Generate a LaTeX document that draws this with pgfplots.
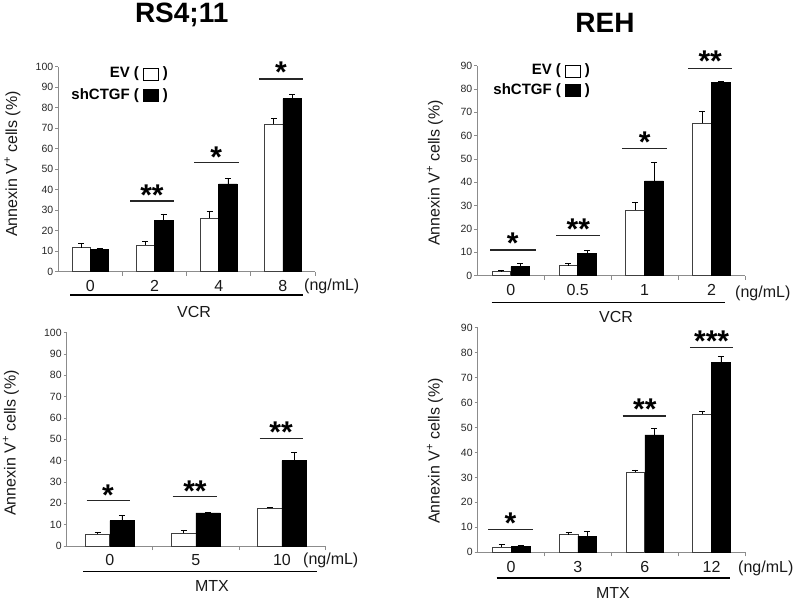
\documentclass[border=0pt]{standalone}
\usepackage{pgfplots}
\pgfplotsset{compat=1.18}
\usepackage{pgfplotstable}
\usepackage{fontspec}
\setmainfont{Liberation Sans}

\pgfplotstableread{
x ev everr sh sherr
0 11.7 2.0 10.9 0.3
1 13.0 1.6 25.2 3.0
2 26.0 3.7 42.8 3.0
3 72.0 2.8 84.4 2.1
}\rsvcr
\pgfplotstableread{
x ev everr sh sherr
0 1.7 0.7 3.9 1.4
1 4.3 1.0 9.6 1.1
2 28.1 3.2 40.6 8.0
3 65.3 5.3 82.7 0.7
}\rehvcr
\pgfplotstableread{
x ev everr sh sherr
0 5.5 0.9 11.9 2.3
1 5.9 1.6 15.5 0.3
2 17.7 0.4 40.0 3.9
}\rsmtx
\pgfplotstableread{
x ev everr sh sherr
0 2.1 1.1 2.5 0.4
1 7.1 0.9 6.5 1.8
2 32.0 1.0 47.0 2.7
3 55.3 1.0 76.2 2.2
}\rehmtx

\definecolor{axgray}{HTML}{8C8C8C}
\newcommand\wbox{{\fboxsep=0pt\fboxrule=1pt\raisebox{-2pt}{\fbox{\rule{0pt}{11pt}\hspace{13.5pt}}}}}
\newcommand\bbox{\rule[-2pt]{15.5pt}{13pt}}

\tikzset{
  sigstar/.style={font=\fontsize{30}{30}\selectfont\bfseries, anchor=base, yshift=-17pt, inner sep=0pt},
  sig/.style={black!85, line width=1.1pt},
  legtext/.style={anchor=east, font=\fontsize{15}{17}\selectfont\bfseries, inner sep=0pt},
}

\pgfplotsset{
  panel/.style={
    scale only axis,
    anchor=south west,
    ybar=0pt,
    axis lines*=left,
    axis line style={axgray, line width=0.8pt},
    x axis line style={shorten <=-3pt},
    ymin=0,
    xmin=-0.5,
    tick align=outside,
    major tick length=3pt,
    tick style={axgray, line width=0.8pt},
    xtick={0,1,2,3},
    major x tick style={draw=none},
    minor x tick style={axgray, line width=0.8pt},
    minor tick length=4pt,
    yticklabel style={font=\fontsize{10.5}{12}\selectfont, text=black!85, xshift=1.5pt},
    xticklabel style={font=\fontsize{16}{18}\selectfont, text=black!90, yshift=-2pt},
    /pgf/number format/assume math mode=true,
    clip=false,
    error bars/y dir=plus,
    error bars/y explicit,
    error bars/error bar style={black, line width=0.6pt},
    error bars/error mark options={rotate=90, mark size=3pt, black, line width=0.6pt},
  },
  evbar/.style={draw=black!75, fill=white, line width=0.7pt},
  shbar/.style={draw=black, fill=black, line width=0.5pt},
}

\begin{document}
\begin{tikzpicture}
\useasboundingbox (0pt,0pt) rectangle (800pt,-601pt);

% ---------------- Panel 1: RS4;11 VCR
\begin{axis}[panel,
  at={(58.3pt,-271.7pt)}, width=256.7pt, height=205pt,
  bar width=18.3pt,
  xmax=3.5, ymax=100, ytick={0,10,...,100},
  xticklabels={0,2,4,8},
  minor xtick={0.5,1.5,2.5,3.5},
]
\addplot[evbar] table[x=x, y=ev, y error=everr] {\rsvcr};
\addplot[shbar] table[x=x, y=sh, y error=sherr] {\rsvcr};
\draw[sig] (axis cs:0.62,34.5) -- (axis cs:1.30,34.5);
\draw[sig] (axis cs:1.62,53.2) -- (axis cs:2.31,53.2);
\draw[sig] (axis cs:2.63,94) -- (axis cs:3.32,94);
\node[sigstar] at (axis cs:0.96,40.6) {**};
\node[sigstar] at (axis cs:1.96,59.3) {*};
\node[sigstar] at (axis cs:2.97,100.8) {*};
\end{axis}

% ---------------- Panel 2: REH VCR
\begin{axis}[panel,
  at={(477.3pt,-275.7pt)}, width=267.7pt, height=210pt,
  bar width=18.8pt,
  xmax=3.5, ymax=90, ytick={0,10,...,90},
  xticklabels={0,0.5,1,2},
  minor xtick={0.5,1.5,2.5,3.5},
]
\addplot[evbar] table[x=x, y=ev, y error=everr] {\rehvcr};
\addplot[shbar] table[x=x, y=sh, y error=sherr] {\rehvcr};
\draw[sig] (axis cs:-0.31,11) -- (axis cs:0.37,11);
\draw[sig] (axis cs:0.68,17.1) -- (axis cs:1.34,17.1);
\draw[sig] (axis cs:1.66,54.6) -- (axis cs:2.34,54.6);
\draw[sig] (axis cs:2.65,88.9) -- (axis cs:3.31,88.9);
\node[sigstar] at (axis cs:0.03,16.7) {*};
\node[sigstar] at (axis cs:1.01,22.7) {**};
\node[sigstar] at (axis cs:2.0,60.3) {*};
\node[sigstar] at (axis cs:2.98,94.6) {**};
\end{axis}

% ---------------- Panel 3: RS4;11 MTX
\begin{axis}[panel,
  at={(66.7pt,-546pt)}, width=258.3pt, height=213.3pt,
  bar width=24.2pt,
  xmax=2.5, ymax=100, ytick={0,10,...,100},
  xtick={0,1,2},
  xticklabels={0,5,10},
  minor xtick={0.5,1.5,2.5},
]
\addplot[evbar] table[x=x, y=ev, y error=everr] {\rsmtx};
\addplot[shbar] table[x=x, y=sh, y error=sherr] {\rsmtx};
\draw[sig] (axis cs:-0.27,21.3) -- (axis cs:0.23,21.3);
\draw[sig] (axis cs:0.73,23.1) -- (axis cs:1.25,23.1);
\draw[sig] (axis cs:1.74,50.5) -- (axis cs:2.245,50.5);
\node[sigstar] at (axis cs:-0.02,27) {*};
\node[sigstar] at (axis cs:0.99,28.9) {**};
\node[sigstar] at (axis cs:1.99,56.3) {**};
\end{axis}

% ---------------- Panel 4: REH MTX
\begin{axis}[panel,
  at={(477.7pt,-552.3pt)}, width=267.3pt, height=224.7pt,
  bar width=18.8pt,
  xmax=3.5, ymax=90, ytick={0,10,...,90},
  xticklabels={0,3,6,12},
  minor xtick={0.5,1.5,2.5,3.5},
]
\addplot[evbar] table[x=x, y=ev, y error=everr] {\rehmtx};
\addplot[shbar] table[x=x, y=sh, y error=sherr] {\rehmtx};
\draw[sig] (axis cs:-0.34,9.2) -- (axis cs:0.325,9.2);
\draw[sig] (axis cs:1.67,54.6) -- (axis cs:2.32,54.6);
\draw[sig] (axis cs:2.675,82) -- (axis cs:3.325,82);
\node[sigstar] at (axis cs:-0.01,14.3) {*};
\node[sigstar] at (axis cs:2.0,60) {**};
\node[sigstar] at (axis cs:3.0,87.3) {***};
\end{axis}

% ---------------- Titles
\node[font=\fontsize{28}{30}\selectfont\bfseries] at (181.7pt,-15pt) {RS4;11};
\node[font=\fontsize{28}{30}\selectfont\bfseries] at (605pt,-23pt) {REH};

% ---------------- y labels
\foreach \xx/\yy in {12.5/164, 435/173, 11/443, 435/451}
  \node[rotate=90, font=\fontsize{16}{18}\selectfont, text=black!90] at (\xx pt,-\yy pt) {Annexin V\textsuperscript{+} cells (\%)};

% ---------------- Legends
\node[legtext] at (168pt,-74pt) {EV ( \wbox\ )};
\node[legtext] at (168pt,-96pt) {shCTGF ( \bbox\ )};
\node[legtext] at (590pt,-70.7pt) {EV ( \wbox\ )};
\node[legtext] at (590pt,-90.7pt) {shCTGF ( \bbox\ )};

% ---------------- units, drug lines, drug names
\begin{scope}[every node/.style={font=\fontsize{16}{18}\selectfont, text=black!90}]
\node[anchor=west, inner sep=0pt] at (304pt,-286pt) {(ng/mL)};
\node[anchor=west, inner sep=0pt] at (735pt,-293pt) {(ng/mL)};
\node[anchor=west, inner sep=0pt] at (303pt,-560.7pt) {(ng/mL)};
\node[anchor=west, inner sep=0pt] at (738pt,-568.3pt) {(ng/mL)};
\node at (194pt,-311.7pt) {VCR};
\node at (616pt,-316.7pt) {VCR};
\node at (212pt,-585.7pt) {MTX};
\node at (613pt,-593pt) {MTX};
\end{scope}
\draw[black, line width=1.1pt] (70pt,-295pt) -- (303pt,-295pt);
\draw[black, line width=1.1pt] (491.7pt,-302.7pt) -- (725pt,-302.7pt);
\draw[black, line width=1.1pt] (83pt,-571.7pt) -- (317pt,-571.7pt);
\draw[black, line width=1.1pt] (496.7pt,-578pt) -- (730pt,-578pt);
\end{tikzpicture}
\end{document}
